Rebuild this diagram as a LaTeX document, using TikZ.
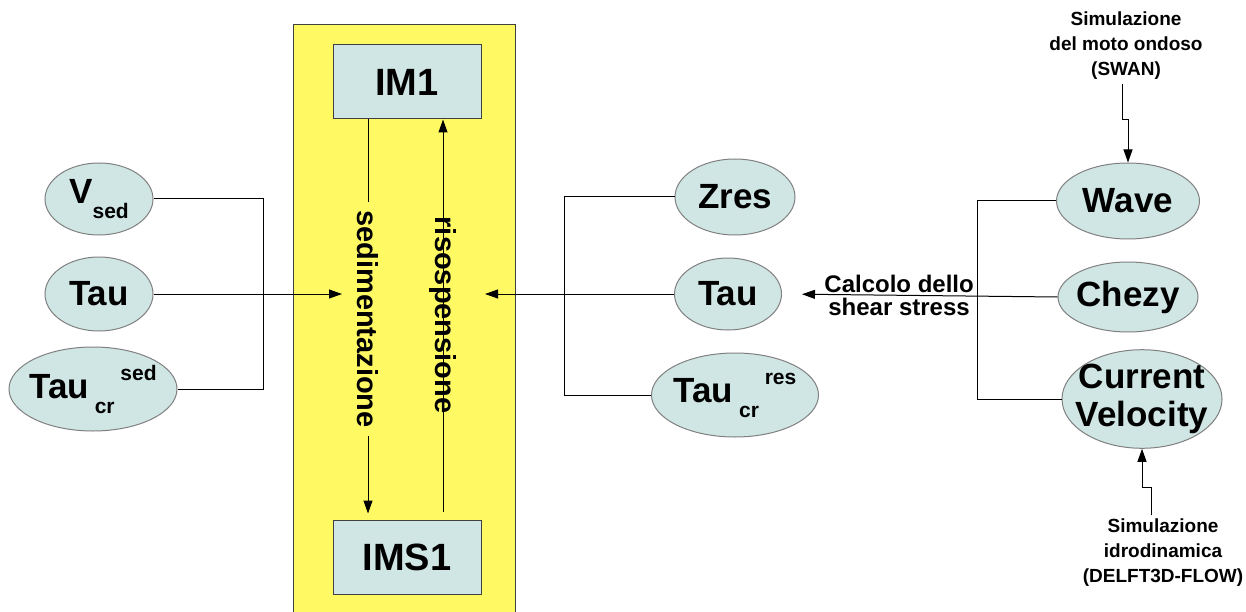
\documentclass[tikz,border=0pt]{standalone}
\usepackage{fontspec}
\setmainfont{Liberation Sans}
\usepackage{xcolor}
\usetikzlibrary{shapes.geometric,arrows.meta}
\definecolor{varfill}{RGB}{208,230,228}
\definecolor{panel}{RGB}{255,250,100}
\newcommand{\lowtxt}[1]{\raisebox{-15pt}{\fontsize{21}{21}\selectfont #1}}
\newcommand{\hightxt}[1]{\raisebox{18pt}{\fontsize{21}{21}\selectfont #1}}

\begin{document}
\begin{tikzpicture}[x=1pt, y=-1pt, line width=1pt, >={Triangle[length=13pt,width=9pt]},
  var/.style={ellipse, draw=gray, fill=varfill, inner xsep=-8pt, inner ysep=0pt, font=\bfseries\fontsize{35}{38}\selectfont},
  pool/.style={rectangle, draw=black!75, fill=varfill, minimum width=148pt, minimum height=74pt, font=\bfseries\fontsize{38}{40}\selectfont},
  flux/.style={rotate=-90, font=\bfseries\fontsize{29}{30}\selectfont, inner sep=8pt},
  note/.style={align=center, font=\bfseries\fontsize{19}{25}\selectfont}]
\useasboundingbox (0,0) rectangle (1246,612);
\fill[white] (0,0) rectangle (1246,612);
\draw[fill=panel, draw=black!75] (293,25) rectangle (515,640);

\node[pool] (im1) at (407,82) {IM1};
\node[pool] (ims1) at (407,557) {IMS1};

\node[var, minimum width=108pt, minimum height=72pt] (vsed) at (99,199) {V\lowtxt{sed}};
\node[var, minimum width=108pt, minimum height=74pt] (taul) at (99,294) {Tau};
\node[var, minimum width=168pt, minimum height=84pt] (taucs) at (93,389) {Tau\,\lowtxt{cr}\,\hightxt{sed}};

\node[var, minimum width=120pt, minimum height=76pt] (zres) at (735,197) {Zres};
\node[var, minimum width=107pt, minimum height=72pt] (taum) at (728,294) {Tau};
\node[var, minimum width=167pt, minimum height=84pt] (taucr) at (735,395) {Tau\,\lowtxt{cr}\,\hightxt{res}};

\node[var, minimum width=143pt, minimum height=76pt] (wave) at (1128,201) {Wave};
\node[var, minimum width=140pt, minimum height=70pt] (chezy) at (1128,297) {Chezy};
\node[var, minimum width=160pt, minimum height=97pt, inner xsep=-22pt, align=center] (cv) at (1142,399) {Current\\Velocity};

\node[note] (swan) at (1126,46) {Simulazione\\del moto ondoso\\(SWAN)};
\node[note] (delft) at (1163,553) {Simulazione\\idrodinamica\\(DELFT3D-FLOW)};

\coordinate (lj) at (263,294);
\coordinate (rj) at (564,294);
\coordinate (fj) at (977,297);
\coordinate (sedin) at (342,294);
\coordinate (risoin) at (485,294);

\draw (vsed.east) -| (lj);
\draw (taucs.east) -| (lj);
\draw[->] (taul.east) -- (sedin);

\draw (zres.west) -| (rj);
\draw (taucr.west) -| (rj);
\draw[->] (taum.west) -- (risoin);

\draw (wave.west) -| (fj);
\draw (cv.west) -| (fj);
\draw[->, shorten >=20pt] (chezy.west) -- (taum.east)
  node[pos=0.575, above, inner sep=2pt, font=\bfseries\fontsize{24}{25}\selectfont] (calc) {Calcolo dello}
  node[pos=0.575, below, inner sep=2pt, font=\bfseries\fontsize{24}{25}\selectfont] (shear) {shear stress};

\node[flux] (sed) at (368,319) {sedimentazione};
\draw (im1.south -| sed) -- (sed.west);
\draw[->, shorten >=6pt] (sed.east) -- (ims1.north -| sed);

\draw[->, shorten <=8pt] (ims1.north -| 443,0) -- (im1.south -| 443,0);
\node[flux] (riso) at (443,315) {risospensione};

\draw[->] ([xshift=-4pt]swan.south) -- ++(0,36) -| (wave.north);
\draw[->] ([xshift=-12pt]delft.north) -- ++(0,-28) -| (cv.south);
\end{tikzpicture}
\end{document}
